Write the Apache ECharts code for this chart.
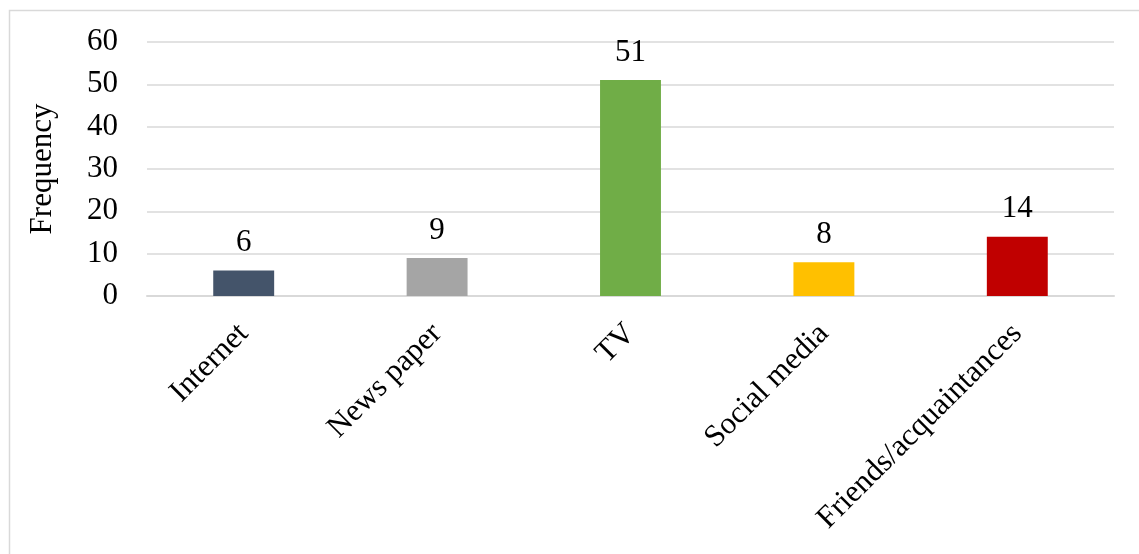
<!DOCTYPE html>
<html>
<head>
<meta charset="utf-8">
<script src="https://cdn.jsdelivr.net/npm/echarts@6/dist/echarts.min.js"></script>
<style>
  html, body { margin: 0; padding: 0; background: #ffffff; }
  #chart { width: 1139px; height: 554px; }
</style>
</head>
<body>
<div id="chart"></div>
<script>
// Sources of information and how many respondents named each
const categories = ['Internet', 'News paper', 'TV', 'Social media', 'Friends/acquaintances'];
const frequency = [6, 9, 51, 8, 14];
const barColors = ['#44546A', '#A5A5A5', '#70AD47', '#FFC000', '#C00000'];
const yTicks = { min: 0, max: 60, interval: 10 };

const FONT = '"Liberation Serif", "Times New Roman", serif';
const FS = 31;

const chart = echarts.init(document.getElementById('chart'), null, { renderer: 'canvas' });

chart.setOption({
  animation: false,
  backgroundColor: '#ffffff',
  textStyle: { fontFamily: FONT, color: '#000000' },
  graphic: [{
    type: 'rect',
    shape: { x: 9.5, y: 10.5, width: 1300, height: 700 },
    style: { fill: 'none', stroke: '#D9D9D9', lineWidth: 1.5 },
    silent: true,
    z: -1
  }],
  grid: { left: 147, right: 25, top: 42, bottom: 258, containLabel: false },
  xAxis: {
    type: 'category',
    data: categories,
    axisLine: { show: true, lineStyle: { color: '#D9D9D9', width: 2 } },
    axisTick: { show: false },
    axisLabel: {
      rotate: 45,
      interval: 0,
      margin: 33,
      fontFamily: FONT,
      fontSize: FS,
      color: '#000000'
    }
  },
  yAxis: {
    type: 'value',
    min: yTicks.min,
    max: yTicks.max,
    interval: yTicks.interval,
    name: 'Frequency',
    nameLocation: 'middle',
    nameGap: 89,
    nameTextStyle: { fontFamily: FONT, fontSize: FS, color: '#000000' },
    axisLine: { show: false },
    axisTick: { show: false },
    axisLabel: { margin: 29, fontFamily: FONT, fontSize: FS, color: '#000000' },
    splitLine: { show: true, lineStyle: { color: '#D9D9D9', width: 1.5 } }
  },
  series: [{
    type: 'bar',
    data: frequency.map((v, i) => ({ value: v, itemStyle: { color: barColors[i] } })),
    barWidth: '31.5%',
    label: {
      show: true,
      position: 'top',
      distance: 12,
      fontFamily: FONT,
      fontSize: FS,
      color: '#000000'
    }
  }]
});
</script>
</body>
</html>
